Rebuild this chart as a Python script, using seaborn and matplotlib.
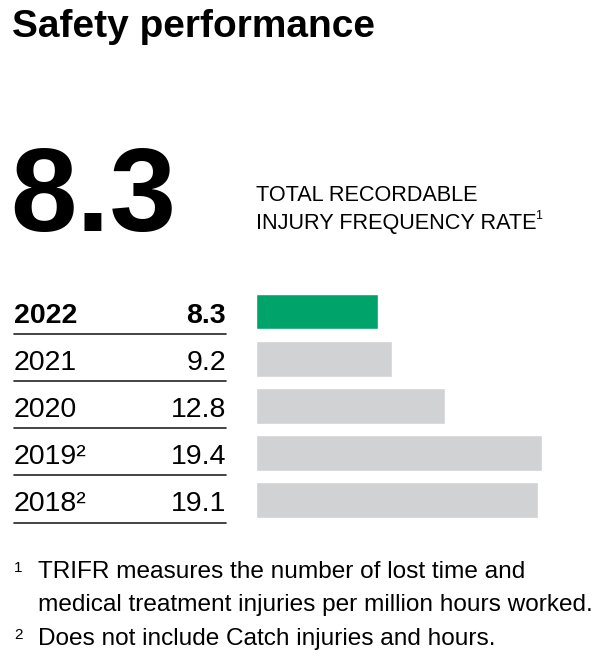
import pandas as pd
import seaborn as sns
import matplotlib.pyplot as plt

# ---- Data ----
years = ["2022", "2021", "2020", "2019", "2018"]
year_notes = ["", "", "", "²", "²"]
trifr = [8.3, 9.2, 12.8, 19.4, 19.1]
bar_colors = ["#00A46B", "#D1D2D4", "#D1D2D4", "#D1D2D4", "#D1D2D4"]
headline = "8.3"
footnotes = [
    ("1", ["TRIFR measures the number of lost time and",
           "medical treatment injuries per million hours worked."]),
    ("2", ["Does not include Catch injuries and hours."]),
]

df = pd.DataFrame({"year": years, "trifr": trifr})

sns.set_theme(style="white")
plt.rcParams["font.family"] = ["Liberation Sans", "DejaVu Sans"]

W, H = 614, 660
INK = "#000000"
fig = plt.figure(figsize=(W / 100, H / 100), dpi=100)

# bar axes placed in pixel terms
ax = fig.add_axes([256 / W, 1 - 523.5 / H, 354 / W, 235.5 / H])
sns.barplot(data=df, x="trifr", y="year", hue="year", order=years,
            palette=dict(zip(years, bar_colors)), width=0.76,
            legend=False, saturation=1, ax=ax)
ax.set_xlim(0, 24)
ax.set_ylim(4.5, -0.5)
ax.axis("off")

# table on the left of the bars
tr = ax.get_yaxis_transform()
x_year = (14 - 256) / 354
x_val = (226 - 256) / 354
for i, (yr, note, v) in enumerate(zip(years, year_notes, trifr)):
    w = "bold" if i == 0 else "normal"
    ax.text(x_year, i + 0.24, yr + note, transform=tr, fontsize=20.5,
            weight=w, ha="left", va="baseline", color=INK, clip_on=False)
    ax.text(x_val, i + 0.24, f"{v:.1f}", transform=tr, fontsize=20.5,
            weight=w, ha="right", va="baseline", color=INK, clip_on=False)
    ax.plot([x_year, x_val], [i + 0.48, i + 0.48], transform=tr,
            color="#222222", lw=1.2, clip_on=False)

# headings
fig.text(12 / W, 1 - 37 / H, "Safety performance", fontsize=28,
         weight="bold", color=INK, va="baseline")
fig.text(10 / W, 1 - 231 / H, headline, fontsize=86, weight="bold",
         color=INK, va="baseline")
fig.text(256 / W, 1 - 201 / H, "TOTAL RECORDABLE", fontsize=15.6,
         color=INK, va="baseline")
t = fig.text(256 / W, 1 - 229 / H, "INJURY FREQUENCY RATE", fontsize=15.6,
             color=INK, va="baseline")
fig.canvas.draw()
bb = t.get_window_extent()
fig.text((bb.x1 - 1) / W, 1 - 219 / H, "1", fontsize=9, color=INK, va="baseline")

# footnotes
fy = [578, 645]
for (mark, lines), y in zip(footnotes, fy):
    fig.text(14 / W, 1 - (y - 6) / H, mark, fontsize=11, color=INK, va="baseline")
    for k, line in enumerate(lines):
        fig.text(38 / W, 1 - (y + 33 * k) / H, line, fontsize=17.6,
                 color=INK, va="baseline")

fig.savefig("out.png", dpi=100)
